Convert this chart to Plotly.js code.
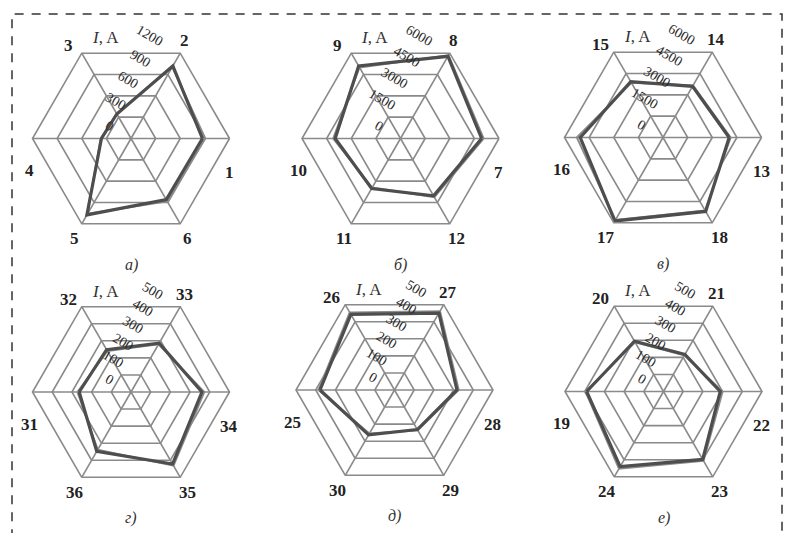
<!DOCTYPE html>
<html>
<head>
<meta charset="utf-8">
<script src="https://cdn.plot.ly/plotly-3.0.1.min.js"></script>
<style>
  html, body { margin: 0; padding: 0; background: #fff; }
  #chart { width: 791px; height: 533px; }
</style>
</head>
<body>
<div id="chart"></div>
<script>
// Feeder currents I, A — six radar panels (а–е), two measurement series each
const catsA = ['1', '2', '3', '4', '5', '6'];
const seriesA1 = [870, 1020, 345, 360, 1075, 860];
const seriesA2 = [905, 1005, 350, 370, 1060, 885];
const ticksA = [0, 300, 600, 900, 1200];

const catsB = ['7', '8', '9', '10', '11', '12'];
const seriesB1 = [4940, 5780, 5100, 3980, 3520, 4030];
const seriesB2 = [5060, 5850, 5000, 4100, 3450, 4120];
const ticksB = [0, 1500, 3000, 4500, 6000];

const catsC = ['13', '14', '15', '16', '17', '18'];
const seriesC1 = [4030, 3600, 3930, 5040, 5870, 5200];
const seriesC2 = [4120, 3660, 3850, 5250, 5800, 5130];
const ticksC = [0, 1500, 3000, 4500, 6000];

const catsD = ['31', '32', '33', '34', '35', '36'];
const seriesD1 = [263, 248, 286, 360, 422, 348];
const seriesD2 = [272, 240, 280, 372, 432, 338];
const ticksD = [0, 100, 200, 300, 400, 500];

const catsE = ['25', '26', '27', '28', '29', '30'];
const seriesE1 = [378, 443, 451, 317, 232, 263];
const seriesE2 = [386, 455, 462, 326, 236, 255];
const ticksE = [0, 100, 200, 300, 400, 500];

const catsF = ['19', '20', '21', '22', '23', '24'];
const seriesF1 = [390, 295, 217, 288, 398, 440];
const seriesF2 = [396, 288, 212, 300, 406, 452];
const ticksF = [0, 100, 200, 300, 400, 500];

const captions = ['а)', 'б)', 'в)', 'г)', 'д)', 'е)'];

const W = 791, H = 533, R = 98.5;
const SERIF = 'Liberation Serif, Times New Roman, serif';
const GRID = '#8a8a8a';

// panel centres in pixels, category orientation per row
const panels = [
  {cats: catsA, s1: seriesA1, s2: seriesA2, ticks: ticksA, cx: 131, cy: 138.5, rot: 0, dir: 'counterclockwise'},
  {cats: catsB, s1: seriesB1, s2: seriesB2, ticks: ticksB, cx: 400.5, cy: 138.5, rot: 0, dir: 'counterclockwise'},
  {cats: catsC, s1: seriesC1, s2: seriesC2, ticks: ticksC, cx: 663, cy: 137.5, rot: 0, dir: 'counterclockwise'},
  {cats: catsD, s1: seriesD1, s2: seriesD2, ticks: ticksD, cx: 131, cy: 392, rot: 180, dir: 'clockwise'},
  {cats: catsE, s1: seriesE1, s2: seriesE2, ticks: ticksE, cx: 394.5, cy: 390, rot: 180, dir: 'clockwise'},
  {cats: catsF, s1: seriesF1, s2: seriesF2, ticks: ticksF, cx: 663.5, cy: 391.5, rot: 180, dir: 'clockwise'}
];

// pixel offsets (right, down) of the category labels, keyed by the screen angle of their spoke
const labelOffset = {0: [98, 34], 60: [53, -98], 120: [-63, -93], 180: [-102, 32], 240: [-57, 100], 300: [56, 100]};

const data = [];
const annotations = [];
const layout = {
  width: W, height: H,
  margin: {l: 0, r: 0, t: 0, b: 0},
  paper_bgcolor: '#fff',
  showlegend: false,
  font: {family: SERIF, color: '#222'},
  annotations: annotations,
  shapes: [{
    type: 'rect', xref: 'paper', yref: 'paper',
    x0: 12 / W, x1: 782 / W, y0: -0.05, y1: 1 - 14 / H,
    line: {color: '#333', width: 1.5, dash: '9px,8px'}
  }]
};

function note(x, y, dx, dy, text, size, color) {
  annotations.push({
    xref: 'paper', yref: 'paper', x: x, y: y,
    xanchor: 'center', yanchor: 'middle',
    xshift: dx, yshift: -dy, showarrow: false,
    text: text, font: {family: SERIF, size: size, color: color}
  });
}

panels.forEach((p, k) => {
  const id = k === 0 ? 'polar' : 'polar' + (k + 1);
  const closeR = arr => arr.concat(arr[0]);
  const closeT = p.cats.concat(p.cats[0]);
  data.push({
    type: 'scatterpolar', subplot: id, mode: 'lines',
    r: closeR(p.s2), theta: closeT,
    line: {color: '#8c8c8c', width: 2}, hoverinfo: 'skip'
  });
  data.push({
    type: 'scatterpolar', subplot: id, mode: 'lines',
    r: closeR(p.s1), theta: closeT,
    line: {color: '#4e4e4e', width: 3.2}, hoverinfo: 'skip'
  });

  const rmax = p.ticks[p.ticks.length - 1];
  layout[id] = {
    domain: {
      x: [(p.cx - R) / W, (p.cx + R) / W],
      y: [1 - (p.cy + R) / H, 1 - (p.cy - R) / H]
    },
    gridshape: 'linear',
    bgcolor: 'rgba(0,0,0,0)',
    angularaxis: {
      type: 'category', categoryorder: 'array', categoryarray: p.cats,
      rotation: p.rot, direction: p.dir,
      showticklabels: false, ticks: '',
      showline: true, linecolor: GRID, linewidth: 1.6,
      showgrid: true, gridcolor: GRID, gridwidth: 1.6
    },
    radialaxis: {
      range: [0, rmax], tickmode: 'array', tickvals: p.ticks,
      angle: 60, side: 'counterclockwise', tickangle: 90,
      ticks: 'outside', ticklen: 16, tickcolor: 'rgba(0,0,0,0)',
      showline: false, showgrid: true, gridcolor: GRID, gridwidth: 1.6,
      tickfont: {family: SERIF, size: 14, color: '#2a2a2a'}
    }
  };

  const cxp = p.cx / W, cyp = 1 - p.cy / H;
  // category labels around the hexagon
  p.cats.forEach((c, i) => {
    let a = p.dir === 'counterclockwise' ? p.rot + 60 * i : p.rot - 60 * i;
    a = ((a % 360) + 360) % 360;
    const off = labelOffset[a];
    note(cxp, cyp, off[0], off[1], '<b>' + c + '</b>', 17, '#222');
  });
  // quantity label and panel caption
  note(cxp, cyp, -26, -101, '<i>I</i>, A', 17, '#333');
  note(cxp, cyp, 0, 126, '<i>' + captions[k] + '</i>', 16, '#333');
});

Plotly.newPlot('chart', data, layout, {displayModeBar: false, staticPlot: true});
</script>
</body>
</html>
